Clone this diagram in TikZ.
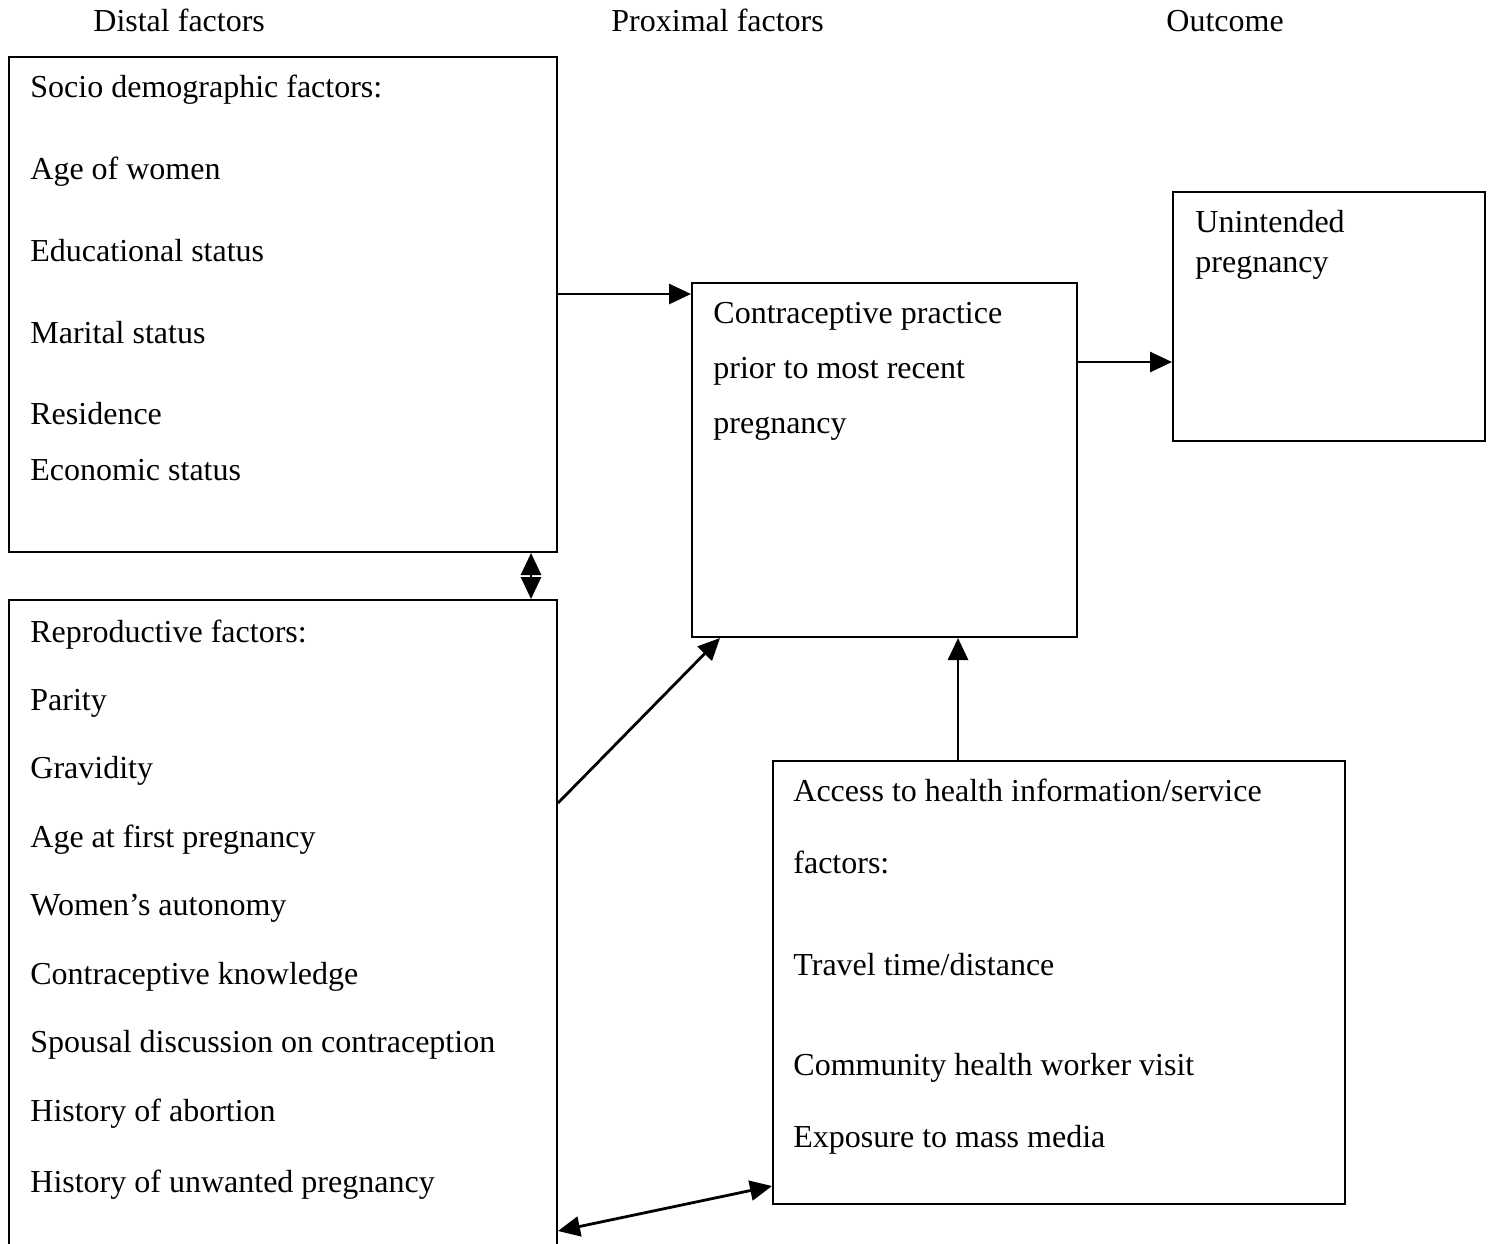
\documentclass[tikz,border=0pt]{standalone}
\usepackage{fontspec}
\setmainfont{Liberation Serif}
\usetikzlibrary{arrows.meta}
\tikzset{
  box/.style={draw, line width=1pt, rectangle, inner sep=0pt, anchor=center},
  txt/.style={anchor=base west, inner sep=0pt, font=\fontsize{16}{19}\selectfont},
  arr/.style={line width=1.4pt, -{Triangle[length=11pt,width=10pt]}},
  darr/.style={line width=1.4pt, {Triangle[length=11pt,width=10pt]}-{Triangle[length=11pt,width=10pt]}}
}
\begin{document}
\begin{tikzpicture}[x=0.5pt,y=-0.5pt]
\useasboundingbox (0,0) rectangle (1491,1243);
\clip (0,0) rectangle (1491,1243);
% boxes
\node[box, minimum width=274pt, minimum height=247.5pt] (socio) at (283,304.5) {};
\node[box, minimum width=274pt, minimum height=339pt] (repro) at (283,939) {};
\node[box, minimum width=192.5pt, minimum height=177pt] (cp) at (884.5,460) {};
\node[box, minimum width=156pt, minimum height=124.5pt] (un) at (1329,316.5) {};
\node[box, minimum width=286pt, minimum height=221.5pt] (acc) at (1059,982.5) {};
% headers
\node[txt] (h1) at (93,31) {Distal factors};
\node[txt] (h2) at (611,31) {Proximal factors};
\node[txt] (h3) at (1166,31) {Outcome};
% socio text
\node[txt] (s1) at (30,97) {Socio demographic factors:};
\node[txt] (s2) at (30,179) {Age of women};
\node[txt] (s3) at (30,261) {Educational status};
\node[txt] (s4) at (30,343) {Marital status};
\node[txt] (s5) at (30,424) {Residence};
\node[txt] (s6) at (30,480) {Economic status};
% reproductive text
\node[txt] (r1) at (30,642) {Reproductive factors:};
\node[txt] (r2) at (30,710) {Parity};
\node[txt] (r3) at (30,778) {Gravidity};
\node[txt] (r4) at (30,847) {Age at first pregnancy};
\node[txt] (r5) at (30,915) {Women’s autonomy};
\node[txt] (r6) at (30,984) {Contraceptive knowledge};
\node[txt] (r7) at (30,1052) {Spousal discussion on contraception};
\node[txt] (r8) at (30,1121) {History of abortion};
\node[txt] (r9) at (30,1192) {History of unwanted pregnancy};
% contraceptive text
\node[txt] (c1) at (713,323) {Contraceptive practice};
\node[txt] (c2) at (713,378) {prior to most recent};
\node[txt] (c3) at (713,433) {pregnancy};
% outcome text
\node[txt] (u1) at (1195,232) {Unintended};
\node[txt] (u2) at (1195,272) {pregnancy};
% access text
\node[txt] (a1) at (793,801) {Access to health information/service};
\node[txt] (a2) at (793,873) {factors:};
\node[txt] (a3) at (793,975) {Travel time/distance};
\node[txt] (a4) at (793,1075) {Community health worker visit};
\node[txt] (a5) at (793,1147) {Exposure to mass media};
% connectors
\draw[arr] (socio.east |- 0,294) -- (cp.west |- 0,294);
\draw[arr] (cp.east |- 0,362) -- (un.west |- 0,362);
\draw[darr] (socio.south -| 531,0) -- (repro.north -| 531,0);
\draw[arr] (repro.east |- 0,803) -- (cp.south -| 720,0);
\draw[arr] (acc.north -| 958,0) -- (cp.south -| 958,0);
\draw[darr] (repro.east |- 0,1231) -- (acc.west |- 0,1186);
\end{tikzpicture}
\end{document}
